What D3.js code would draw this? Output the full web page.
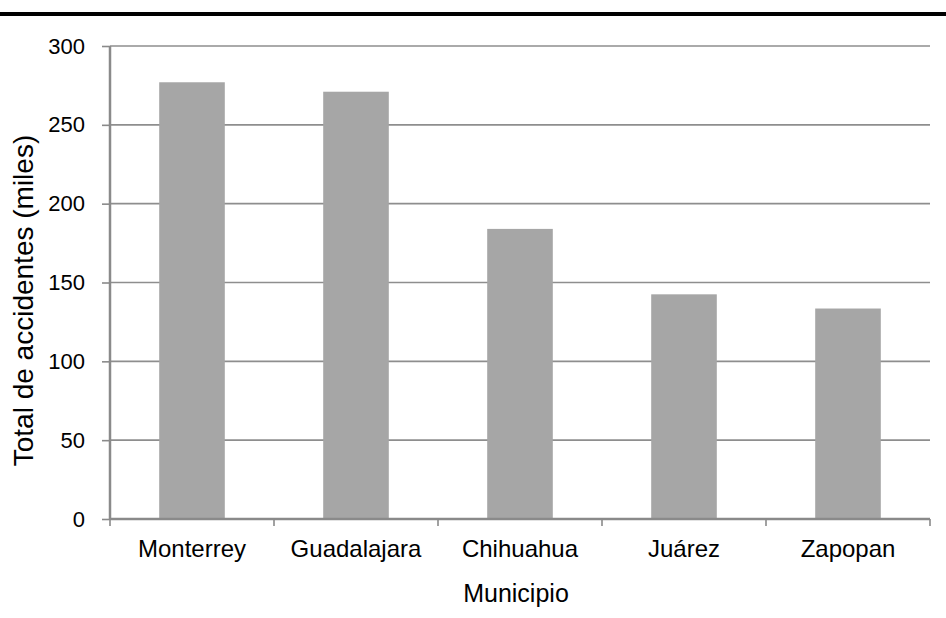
<!DOCTYPE html>
<html>
<head>
<meta charset="utf-8">
<script src="https://cdn.jsdelivr.net/npm/d3@7"></script>
<style>
  body { margin: 0; background: #fff; }
  text { font-family: "Liberation Sans", Arial, sans-serif; fill: #000; }
</style>
</head>
<body>
<script>
// Data
var municipios = ["Monterrey", "Guadalajara", "Chihuahua", "Juárez", "Zapopan"];
var accidentes = [277, 271, 184, 142.5, 133.5];
var yTicks = [0, 50, 100, 150, 200, 250, 300];

var svgWidth = 946;
var svgHeight = 618;

var margin = { top: 46, right: 16, bottom: 99, left: 110 };
var width = svgWidth - margin.left - margin.right;
var height = svgHeight - margin.top - margin.bottom;

var svg = d3.select("body")
  .append("svg")
  .attr("width", svgWidth)
  .attr("height", svgHeight);

// thick black rule at the top
svg.append("rect")
  .attr("x", 0)
  .attr("y", 12)
  .attr("width", svgWidth)
  .attr("height", 4)
  .attr("fill", "#000");

var chartGroup = svg.append("g")
  .attr("transform", `translate(${margin.left}, ${margin.top})`);

var xScale = d3.scaleBand()
  .domain(municipios)
  .range([0, width])
  .paddingInner(0.6)
  .paddingOuter(0.3);

var xCat = d3.scaleBand().domain(municipios).range([0, width]);

var yScale = d3.scaleLinear().domain([0, 300]).range([height, 0]);

// gridlines
chartGroup.append("g")
  .selectAll("line")
  .data(yTicks.slice(1))
  .enter()
  .append("line")
  .attr("x1", 0)
  .attr("x2", width)
  .attr("y1", d => yScale(d))
  .attr("y2", d => yScale(d))
  .attr("stroke", "#8e8e8e")
  .attr("stroke-width", 1.6);

// bars
chartGroup.selectAll("rect.bar")
  .data(municipios)
  .enter()
  .append("rect")
  .attr("class", "bar")
  .attr("x", d => xScale(d))
  .attr("width", xScale.bandwidth())
  .attr("y", (d, i) => yScale(accidentes[i]))
  .attr("height", (d, i) => height - yScale(accidentes[i]))
  .attr("fill", "#a6a6a6");

// y axis
var leftAxis = d3.axisLeft(yScale).tickValues(yTicks).tickSize(8).tickPadding(17);
var yAxisG = chartGroup.append("g").call(leftAxis);
yAxisG.select(".domain").attr("stroke", "#8a8a8a").attr("stroke-width", 2.5)
  .attr("d", `M0,${height}V0`);
yAxisG.selectAll(".tick line").attr("stroke", "#8a8a8a").attr("stroke-width", 1.6);
yAxisG.selectAll(".tick text")
  .style("font-size", "22px")
  .style("font-family", "Liberation Sans, Arial, sans-serif")
  .attr("fill", "#000");

// x axis with ticks on category boundaries
var xAxisG = chartGroup.append("g").attr("transform", `translate(0, ${height})`);
xAxisG.append("line")
  .attr("x1", 0).attr("x2", width)
  .attr("y1", 0).attr("y2", 0)
  .attr("stroke", "#8a8a8a")
  .attr("stroke-width", 2.5);
xAxisG.selectAll("line.tk")
  .data(municipios.concat(["end"]))
  .enter()
  .append("line")
  .attr("class", "tk")
  .attr("x1", (d, i) => i < municipios.length ? xCat(d) : width)
  .attr("x2", (d, i) => i < municipios.length ? xCat(d) : width)
  .attr("y1", 0)
  .attr("y2", 7)
  .attr("stroke", "#8a8a8a")
  .attr("stroke-width", 1.6);
xAxisG.selectAll("text")
  .data(municipios)
  .enter()
  .append("text")
  .attr("x", d => xCat(d) + xCat.bandwidth() / 2)
  .attr("y", 38)
  .attr("text-anchor", "middle")
  .style("font-size", "24px")
  .text(d => d);

// axis titles
chartGroup.append("text")
  .attr("transform", `translate(${-margin.left + 33}, ${height / 2 + 18}) rotate(-90)`)
  .attr("text-anchor", "middle")
  .style("font-size", "28px")
  .text("Total de accidentes (miles)");

chartGroup.append("text")
  .attr("x", width / 2 - 4)
  .attr("y", height + 83)
  .attr("text-anchor", "middle")
  .style("font-size", "25px")
  .text("Municipio");
</script>
</body>
</html>
